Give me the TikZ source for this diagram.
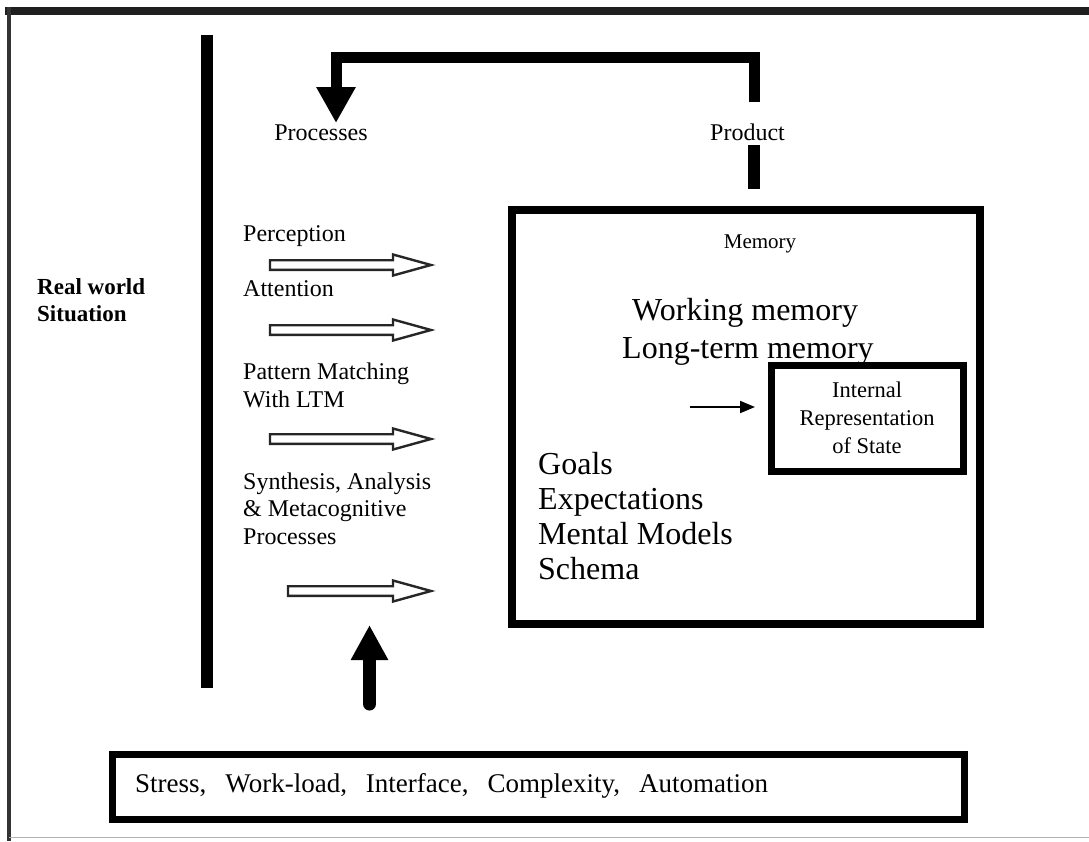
\documentclass[tikz,border=0pt]{standalone}
\usepackage{fontspec}
\setmainfont{Liberation Serif}
\usetikzlibrary{arrows.meta}
\tikzset{
  lbl/.style={inner sep=0pt, font=\fontsize{24}{27.5}\selectfont, align=left},
  big/.style={inner sep=0pt, font=\fontsize{32}{35}\selectfont, align=left},
  boxframe/.style={draw, line width=8pt, inner sep=0pt},
  hollow/.style={draw=black!85, line width=2.4pt, fill=white, line join=miter},
  heavy/.style={line width=11pt, line join=miter},
}
\begin{document}
\begin{tikzpicture}[x=1pt,y=-1pt]
\useasboundingbox (0,0) rectangle (1089,841);
\fill[white] (0,0) rectangle (1089,841);

% outer frame
\draw[line width=8pt, black!88] (5,11) -- (1089,11);
\draw[line width=4pt, black!80] (9,7) -- (9,841);
\draw[line width=1.5pt, black!30] (9,837.5) -- (1089,837.5);

% divider between the real world and the processes
\draw[line width=12pt] (207,35) -- (207,688);
\node[anchor=base west, inner sep=0pt, align=left,
      font=\bfseries\fontsize{23}{27}\selectfont] (rw) at (37,321) {Real world\\Situation};

% feedback loop from product to processes
\node[lbl, anchor=base] (proc) at (321,140) {Processes};
\node[lbl, anchor=base] (prod) at (747.5,140) {Product};
\coordinate (fbA) at (754,102);
\coordinate (fbB) at (336,123);
\draw[heavy, -{Triangle[width=37pt,length=36pt]}] (fbA) -- ++(0,-44.5) -| (fbB);
\coordinate (pdA) at (754,145);
\coordinate (pdB) at (754,189);
\draw[line width=12pt] (pdA) -- (pdB);

% processes (base anchor sits on the last line)
\node[lbl, anchor=base west] (perc) at (243,241.7) {Perception};
\node[lbl, anchor=base west] (att) at (243,296) {Attention};
\node[lbl, anchor=base west] (pm) at (243,407) {Pattern Matching\\With LTM};
\node[lbl, anchor=base west] (syn) at (243,544) {Synthesis, Analysis\\\& Metacognitive\\Processes};

\foreach \yy/\xs in {265/270, 330/270, 439/270, 591/288} {
  \draw[hollow] (\xs,\yy-4.8) -- (393,\yy-4.8) -- (393,\yy-10.5) -- (431,\yy)
     -- (393,\yy+10.5) -- (393,\yy+4.8) -- (\xs,\yy+4.8) -- cycle;
}

% memory
\node[boxframe, minimum width=468pt, minimum height=414pt] (mem) at (746,417) {};
\node[inner sep=0pt, anchor=base, font=\fontsize{21}{25}\selectfont] (memlbl) at (760,248) {Memory};
\node[big, anchor=base west] (wm) at (632,320) {Working memory};
\node[big, anchor=base west] (ltm) at (622,358) {Long-term memory};
\node[big, anchor=base west] (goals) at (538,579) {Goals\\Expectations\\Mental Models\\Schema};

\node[draw, line width=7pt, minimum width=192pt, minimum height=106pt, inner sep=0pt,
      align=center, font=\fontsize{22.5}{28}\selectfont] (irs) at (867,418)
      {Internal\\Representation\\of State};
\coordinate (sa) at (690,407);
\draw[line width=2pt, shorten >=12.5pt, -{Triangle[width=12pt,length=15pt]}] (sa) -- (irs.west |- sa);

% influences
\coordinate (ba) at (369.5,704);
\coordinate (bb) at (369.5,625);
\draw[line width=13pt, line cap=round, -{Triangle[width=35pt,length=35pt]}] (ba) -- (bb);
\node[draw, line width=7pt, inner sep=0pt, minimum width=852pt, minimum height=64.5pt] (stress) at (538,787) {};
\node[anchor=base west, inner sep=0pt, font=\fontsize{27}{30}\selectfont] (stxt) at (135,792)
  {Stress,\hspace{19pt}Work-load,\hspace{19pt}Interface,\hspace{19pt}Complexity,\hspace{19pt}Automation};
\end{tikzpicture}
\end{document}
